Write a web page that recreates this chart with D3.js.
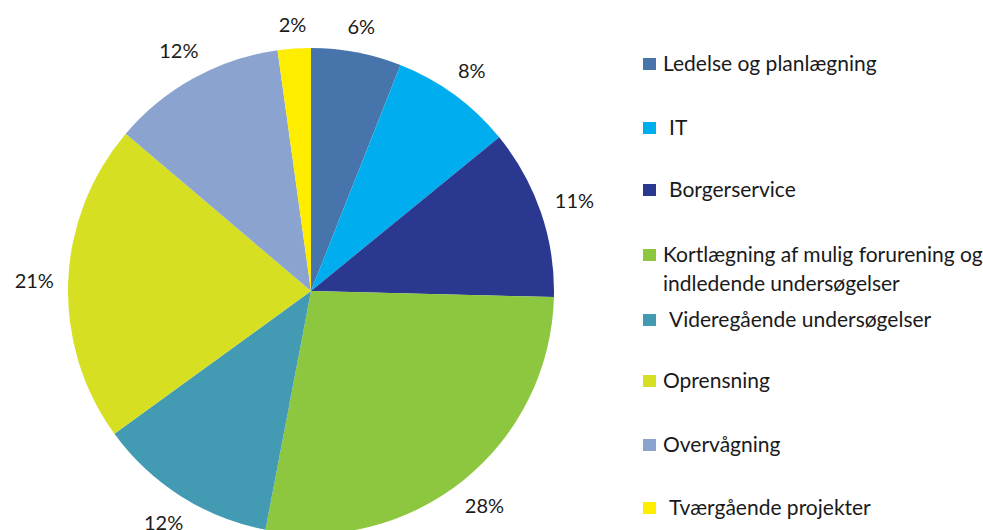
<!DOCTYPE html>
<html>
<head>
<meta charset="utf-8">
<script src="https://cdn.jsdelivr.net/npm/d3@7"></script>
<style>
  body { margin: 0; background: #fff; }
  text { font-family: Lato, "Open Sans", sans-serif; fill: #1a1a1a; }
</style>
</head>
<body>
<div id="chart"></div>
<script>
// categories, shares (percent) and colours
var categories = ["Ledelse og planlægning", "IT", "Borgerservice",
  "Kortlægning af mulig forurening og|indledende undersøgelser",
  "Videregående undersøgelser", "Oprensning", "Overvågning", "Tværgående projekter"];
var shares = [6.0, 8.1, 11.3, 27.6, 12.0, 21.2, 11.6, 2.2];
var colors = ["#4674ab", "#00aeef", "#2b388f", "#8dc63f", "#429ab3", "#d7df23", "#8aa4cf", "#ffed00"];
// some legend entries have a leading blank in the original
var indent = [0, 1, 1, 0, 1, 0, 0, 1];
var legendY = [64, 128, 190, 255, 320, 381, 445, 508];

var width = 983, height = 530;
var cx = 311, cy = 291, radius = 243;

var svg = d3.select("#chart").append("svg")
    .attr("width", width)
    .attr("height", height);

var pie = d3.pie().sort(null).value(function(d){ return d; });
var arc = d3.arc().innerRadius(0).outerRadius(radius);
var arcs = pie(shares);

var g = svg.append("g").attr("transform", "translate(" + cx + "," + cy + ")");

g.selectAll("path.slice")
    .data(arcs)
  .enter().append("path")
    .attr("class", "slice")
    .attr("d", arc)
    .attr("fill", function(d, i){ return colors[i]; });

// percentage labels, pushed out so the text box clears the rim
var fmt = function(v){ return Math.round(v) + "%"; };
var labels = g.selectAll("text.pct")
    .data(arcs)
  .enter().append("text")
    .attr("class", "pct")
    .attr("text-anchor", "middle")
    .attr("dy", "0.35em")
    .style("font-size", "20px")
    .text(function(d){ return fmt(d.data); });

labels.each(function(d){
  var a = (d.startAngle + d.endAngle) / 2;
  var bb = this.getBBox();
  var r = 257 + (bb.width / 2) * Math.abs(Math.sin(a)) + 9 * Math.abs(Math.cos(a));
  d3.select(this).attr("x", r * Math.sin(a)).attr("y", -r * Math.cos(a));
});

// legend
var legend = svg.append("g").attr("transform", "translate(643,0)");
var item = legend.selectAll("g.item")
    .data(categories)
  .enter().append("g")
    .attr("class", "item")
    .attr("transform", function(d, i){ return "translate(0," + legendY[i] + ")"; });

item.append("rect")
    .attr("x", 0).attr("y", -6)
    .attr("width", 13).attr("height", 12)
    .attr("fill", function(d, i){ return colors[i]; });

item.append("text")
    .attr("x", function(d, i){ return indent[i] ? 26 : 20; })
    .attr("y", 7)
    .style("font-size", "21px")
    .each(function(d){
      var lines = d.split("|");
      var t = d3.select(this);
      lines.forEach(function(l, j){
        t.append("tspan")
          .attr("x", t.attr("x"))
          .attr("dy", j ? 29 : 0)
          .text(l);
      });
    });
</script>
</body>
</html>
